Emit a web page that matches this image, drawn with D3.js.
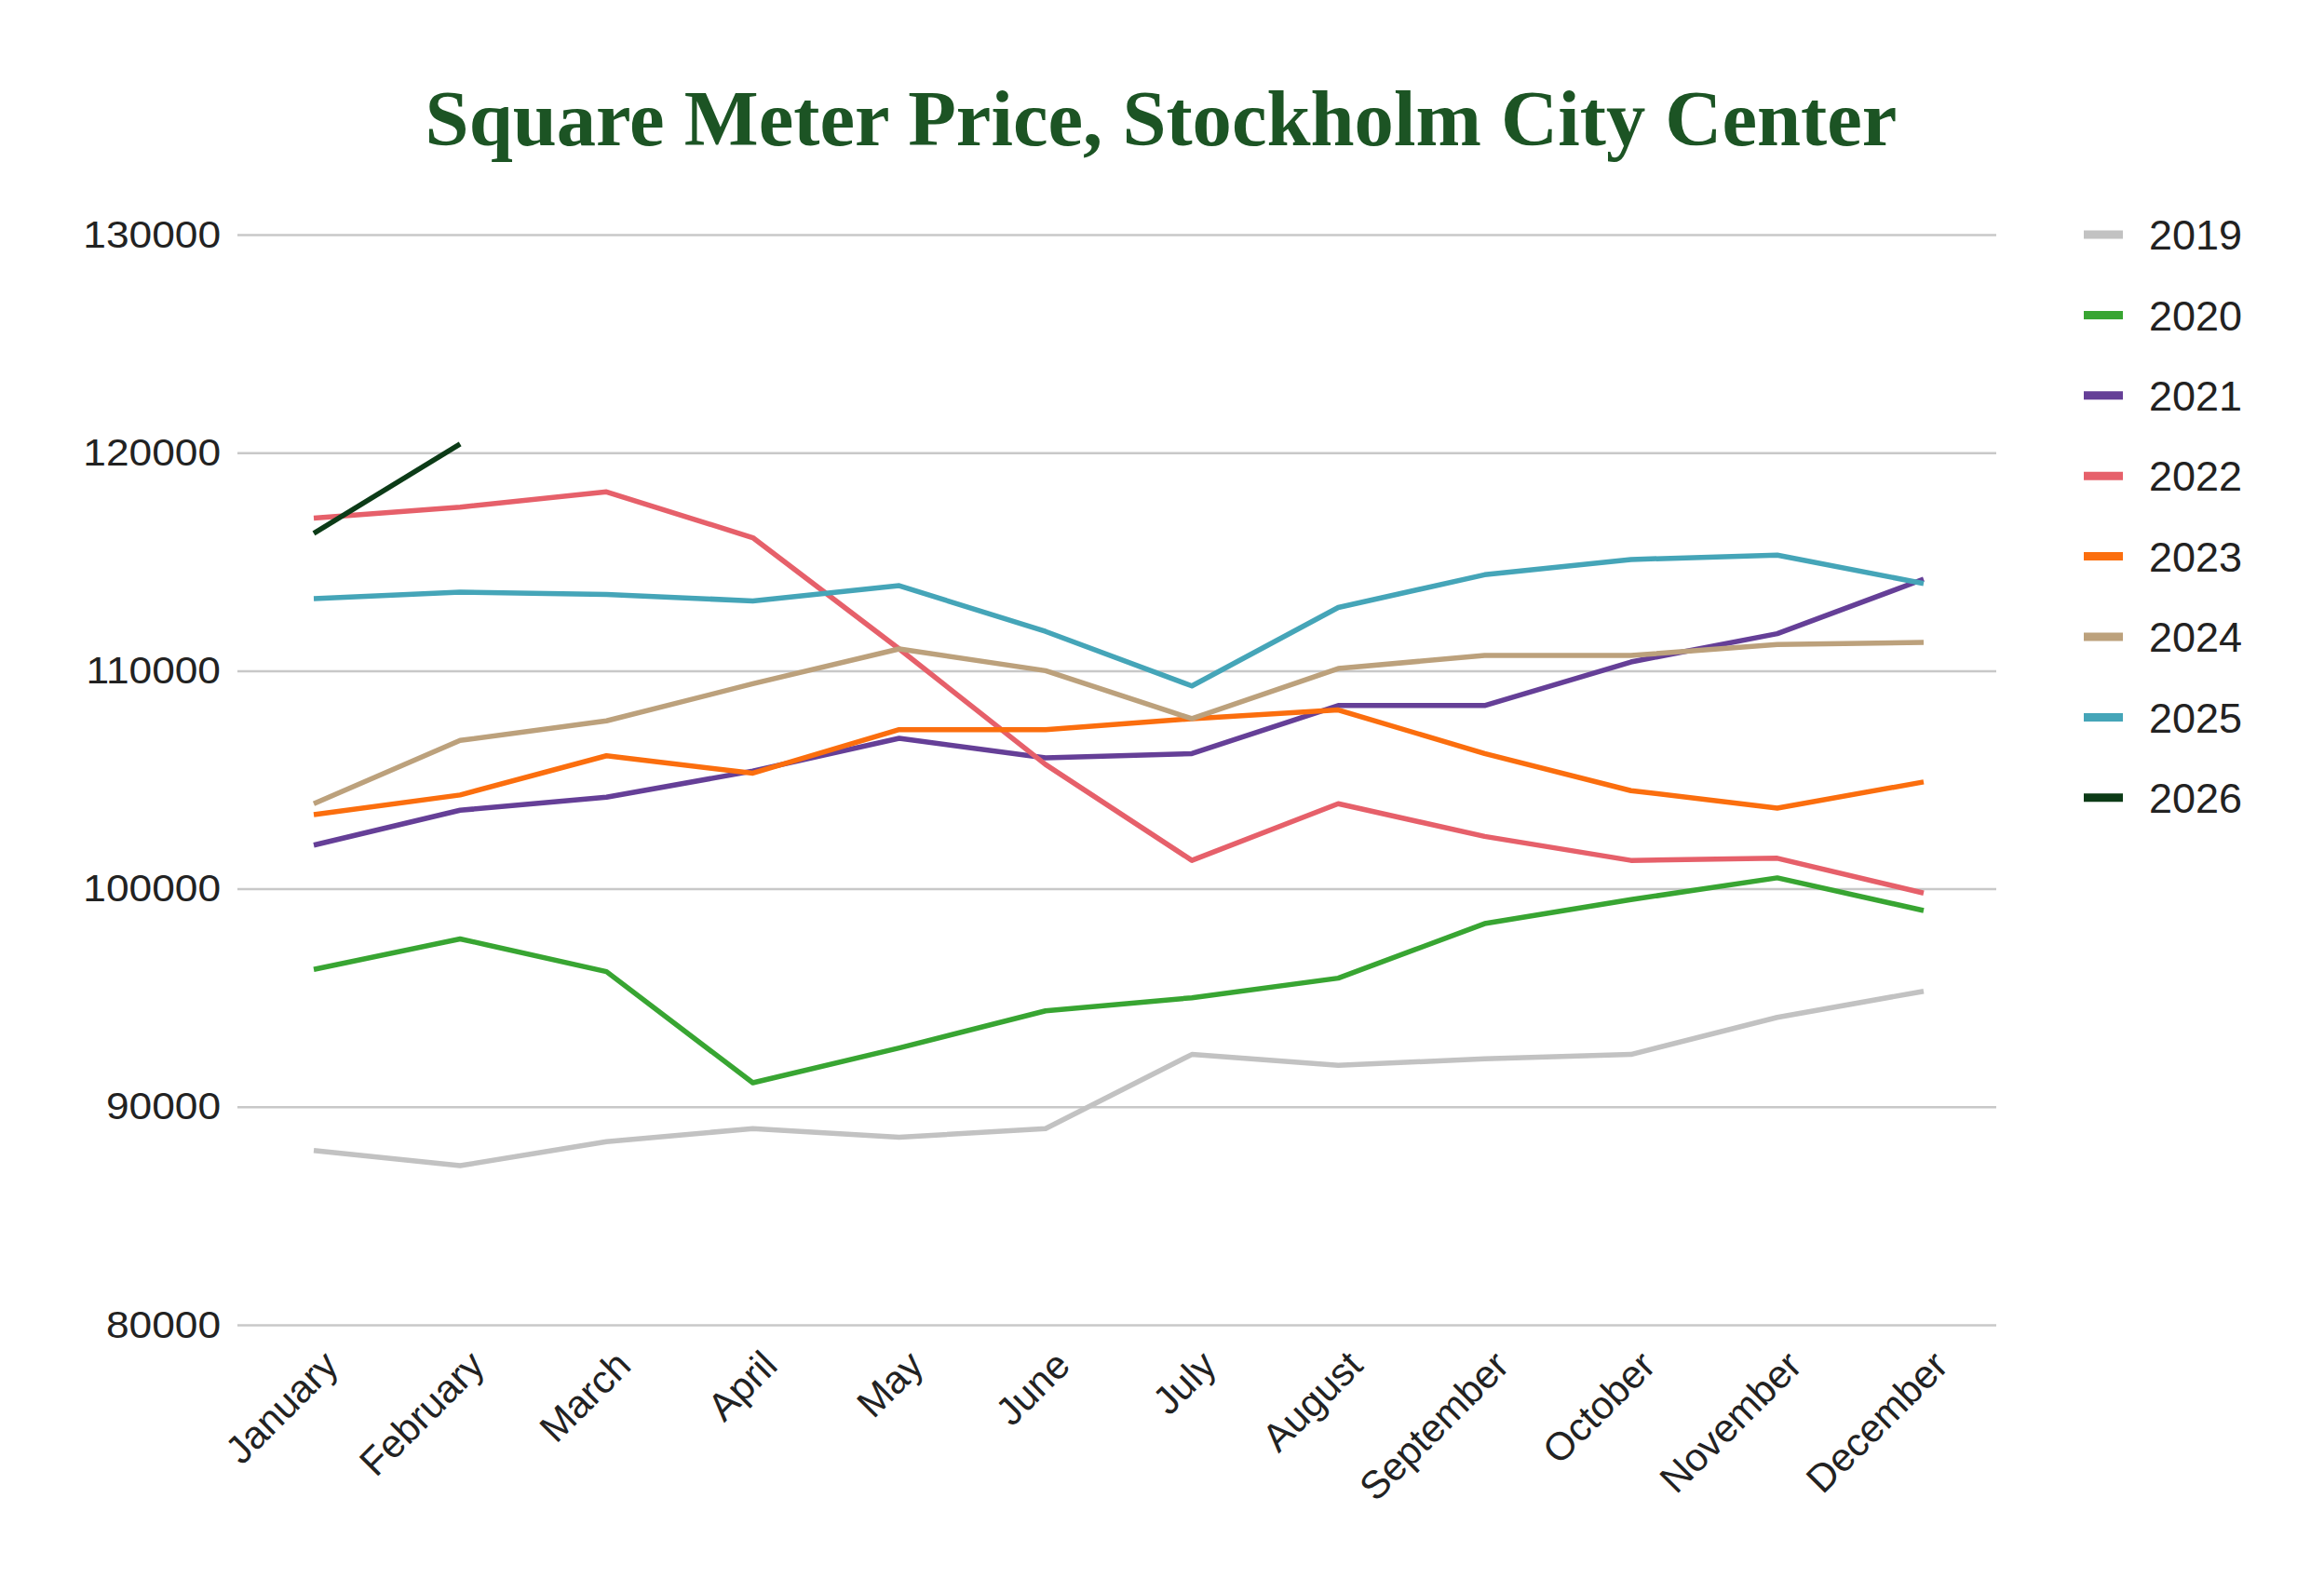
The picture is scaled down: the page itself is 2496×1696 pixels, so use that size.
<!DOCTYPE html>
<html>
<head>
<meta charset="utf-8">
<script src="https://cdn.jsdelivr.net/npm/d3@7"></script>
<style>
html,body{margin:0;padding:0;background:#fff;}
svg{display:block;}
</style>
</head>
<body>
<svg id="chart" width="2496" height="1696"></svg>
<script>
const months = ["January","February","March","April","May","June","July","August","September","October","November","December"];
const yTicks = [80000, 90000, 100000, 110000, 120000, 130000];
const years = ["2019","2020","2021","2022","2023","2024","2025","2026"];
const colors = ["#c2c2c2","#38a532","#653f97","#e6606a","#fb6e0e","#bca17c","#45a5b8","#0c3b17"];

const v2019 = [88000, 87300, 88400, 89000, 88600, 89000, 92400, 91900, 92200, 92400, 94100, 95300];
const v2020 = [96300, 97700, 96200, 91100, 92700, 94400, 95000, 95900, 98400, 99500, 100500, 99000];
const v2021 = [102000, 103600, 104200, 105400, 106900, 106000, 106200, 108400, 108400, 110400, 111700, 114200];
const v2022 = [117000, 117500, 118200, 116100, 111000, 105700, 101300, 103900, 102400, 101300, 101400, 99800];
const v2023 = [103400, 104300, 106100, 105300, 107300, 107300, 107800, 108200, 106200, 104500, 103700, 104900];
const v2024 = [103900, 106800, 107700, 109400, 111000, 110000, 107800, 110100, 110700, 110700, 111200, 111300];
const v2025 = [113300, 113600, 113500, 113200, 113900, 111800, 109300, 112900, 114400, 115100, 115300, 114000];
const v2026 = [116300, 120400];
const seriesValues = [v2019, v2020, v2021, v2022, v2023, v2024, v2025, v2026];

const svg = d3.select("#chart");
const plotLeft = 255, plotRight = 2144, plotTop = 252, plotBottom = 1423;

const x = d3.scalePoint().domain(months).range([337, 2066]);
const y = d3.scaleLinear().domain([80000, 130000]).range([plotBottom, plotTop]);

// Title
const title = svg.append("text")
  .attr("x", 1247).attr("y", 156)
  .attr("text-anchor", "middle")
  .attr("font-family", "'Liberation Serif', 'DejaVu Serif', serif")
  .attr("font-weight", "bold")
  .attr("font-size", 76)
  .attr("fill", "#1c5424")
  .text("Square Meter Price, Stockholm City Center");
const tw = title.node().getComputedTextLength();
title.attr("font-size", 76 * 1581 / tw);

// Y axis gridlines and labels
const yAxis = d3.axisLeft(y).tickValues(yTicks).tickSize(-(plotRight - plotLeft)).tickPadding(18).tickFormat(d3.format("d"));
const yg = svg.append("g").attr("transform", `translate(${plotLeft},0)`).call(yAxis);
yg.select(".domain").remove();
yg.selectAll(".tick line").attr("stroke", "#c8c8c8").attr("stroke-width", 2.5);
yg.selectAll(".tick text")
  .attr("font-family", "'Liberation Sans', Arial, sans-serif")
  .attr("font-size", 41)
  .attr("fill", "#222")
  .attr("transform", "scale(1.08,1)")
  .attr("x", -18 / 1.08);

// X axis labels
const xAxis = d3.axisBottom(x).tickSize(0).tickPadding(0);
const xg = svg.append("g").attr("transform", `translate(0,${plotBottom})`).call(xAxis);
xg.select(".domain").remove();
xg.selectAll(".tick text")
  .attr("font-family", "'Liberation Sans', Arial, sans-serif")
  .attr("font-size", 42)
  .attr("fill", "#222")
  .attr("text-anchor", "end")
  .attr("dy", 0)
  .attr("transform", "translate(28,46) rotate(-45)");

// Lines
const line = d3.line().x((d, i) => x(months[i])).y(d => y(d));
years.forEach((yr, k) => {
  svg.append("path")
    .datum(seriesValues[k])
    .attr("fill", "none")
    .attr("stroke", colors[k])
    .attr("stroke-width", 5.5)
    .attr("stroke-linejoin", "round")
    .attr("d", line);
});

// Legend
const lg = svg.append("g");
years.forEach((yr, k) => {
  const ly = 252 + k * 86.4;
  lg.append("line")
    .attr("x1", 2238).attr("x2", 2280)
    .attr("y1", ly).attr("y2", ly)
    .attr("stroke", colors[k]).attr("stroke-width", 9);
  lg.append("text")
    .attr("x", 2308).attr("y", ly)
    .attr("dy", "0.36em")
    .attr("font-family", "'Liberation Sans', Arial, sans-serif")
    .attr("font-size", 45)
    .attr("fill", "#222")
    .text(yr);
});
</script>
</body>
</html>
